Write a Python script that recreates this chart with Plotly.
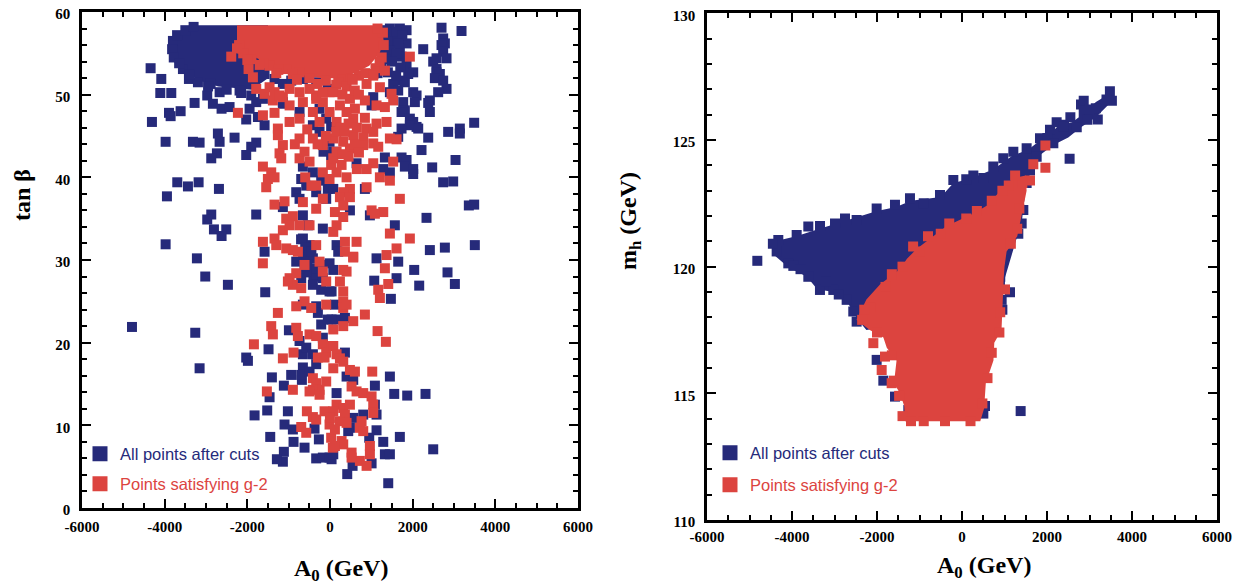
import plotly.graph_objects as go

# ---------------- colours ----------------
BLUE = "#262a7a"
RED = "#dc443f"

# ---------------- tick labels ----------------
A0_TICKS = [-6000, -4000, -2000, 0, 2000, 4000, 6000]
A0_TICKTEXT = ["-6000", "-4000", "-2000", "0", "2000", "4000", "6000"]
TANB_TICKS = [0, 10, 20, 30, 40, 50, 60]
TANB_TICKTEXT = ["0", "10", "20", "30", "40", "50", "60"]
MH_TICKS = [110, 115, 120, 125, 130]
MH_TICKTEXT = ["110", "115", "120", "125", "130"]

LEGEND_ALL = "All points after cuts"
LEGEND_G2 = "Points satisfying g-2"

# ============ LEFT PANEL: A0 vs tan beta ============
# dense cores (outline of the saturated cloud of points)
left_blue_core = [(-3300, 58.4), (-1500, 58.4), (-1500, 52.0), (-1900, 50.6), (-2300, 50.8),
                  (-2700, 51.0), (-3100, 51.6), (-3500, 52.6), (-3750, 53.8), (-3850, 55.0),
                  (-3800, 56.8), (-3600, 57.6)]
left_red_core = [(-2250, 58.4), (1250, 58.4), (1300, 56.5), (1200, 55.0), (950, 53.5), (600, 52.6),
                 (200, 52.0), (-200, 52.0), (-600, 52.3), (-1000, 52.8), (-1400, 53.5),
                 (-1800, 54.5), (-2250, 55.0)]

left_blue_pts = [
    (-4340, 53.2), (-4082, 51.9), (-4106, 50.2), (-3840, 50.2), (-3276, 49.0), (-3614, 48.0),
    (-3896, 47.8), (-3856, 47.4), (-4308, 46.7), (-3977, 44.3), (-3316, 44.3), (-3155, 44.2),
    (-2712, 45.3), (-2671, 44.3), (-2309, 44.8), (-2736, 42.9), (-2873, 42.3), (-1785, 44.2),
    (-1906, 43.7), (-2027, 42.7), (-3695, 39.4), (-3437, 38.9), (-3179, 39.4), (-2687, 38.6),
    (-3945, 37.7), (-1785, 35.5), (-2873, 35.5), (-2970, 34.9), (-2808, 33.7), (-2510, 33.7),
    (-2623, 32.9), (-3977, 31.9), (-3220, 30.2),
    (-3558, 53.1), (-3413, 51.9), (-3195, 51.5), (-2889, 51.3), (-2671, 50.3), (-2970, 49.9),
    (-2833, 48.9), (-2623, 48.3), (-2430, 48.5), (-2188, 50.5), (-1906, 49.9), (-1946, 48.3),
    (-2027, 47.0), (-1744, 47.3), (-1583, 46.3), (-1785, 49.1), (-1140, 48.9), (-1623, 49.5),
    (-3800, 56.5), (-3820, 55.5), (-3780, 54.5), (-3700, 57.2), (-3500, 57.8), (-3300, 58.2),
    (-3650, 53.8), (-3400, 52.4), (-2950, 51.0), (-2500, 50.6), (-2150, 50.2),
    (-656, 41.3), (-414, 40.6), (-696, 39.8), (-817, 38.2), (-575, 39.0), (-334, 38.2),
    (-52, 38.6), (-213, 39.6), (-737, 37.4), (-92, 37.4), (-656, 35.4), (-535, 34.2),
    (-656, 32.6), (-495, 31.8), (-575, 31.0), (-414, 30.2), (-173, 33.8), (-1583, 31.0),
    (-1140, 36.4), (-253, 45.5), (-11, 44.3), (-157, 43.1), (28, 42.7),
    (-700, 32.5), (-600, 31.5), (-500, 30.5), (-650, 30.0), (-450, 31.0), (-550, 29.5),
    (-400, 28.0), (-600, 28.5),
    (-1583, 52.5), (-1342, 51.9), (-1140, 51.3), (-938, 51.7), (-656, 51.9), (-334, 51.5),
    (-52, 50.7), (-1140, 49.1), (-253, 48.3), (-92, 47.1), (-414, 46.3), (28, 46.1), (-737, 47.9),
    (1449, 58.0), (1690, 58.0), (1852, 57.8), (2698, 58.1), (3182, 57.7), (2255, 55.5),
    (2738, 56.8), (2779, 56.2), (2698, 56.0), (2738, 55.2), (2819, 54.4), (2577, 54.4),
    (2497, 54.0), (2577, 53.1), (2577, 52.7), (2658, 52.5), (2537, 52.0), (2738, 51.7),
    (2819, 50.7), (2617, 50.3), (2416, 49.3), (2376, 49.0), (2416, 47.9), (1529, 56.2),
    (1610, 56.8), (1852, 56.2), (1690, 55.6), (1569, 54.8), (1731, 54.6), (1852, 53.5),
    (2013, 52.7), (1892, 52.5), (1731, 51.7), (1811, 51.5), (1529, 51.3), (1449, 50.3),
    (1650, 50.5), (2013, 50.3), (2094, 49.9), (2053, 49.1), (1771, 49.1), (1811, 48.1),
    (1731, 47.9), (1932, 47.1), (2013, 46.7), (2094, 46.1), (1932, 46.3), (2134, 45.9),
    (1731, 45.9), (1046, 49.7), (1006, 48.7), (2859, 45.5), (3141, 45.9), (3141, 45.3),
    (3488, 46.6), (2376, 44.8), (2214, 43.3), (1650, 44.9), (1328, 42.4), (1731, 42.4),
    (1852, 42.1), (1811, 41.3), (2013, 41.0), (2013, 40.4), (1288, 41.0), (1449, 40.6),
    (2472, 41.2), (3037, 42.1), (2738, 39.4), (2980, 39.5), (3359, 36.6), (3488, 36.7),
    (2335, 35.1), (1569, 34.2), (643, 41.7), (844, 38.6), (79, 43.1), (79, 38.6), (482, 36.0),
    (2416, 31.2), (2779, 31.5), (3504, 31.8), (1126, 30.2), (1650, 29.8), (965, 35.4),
    (159, 31.8), (199, 31.0),
    (1350, 57.8), (1400, 57.2), (1500, 57.5), (1600, 57.6), (1750, 57.2), (1400, 56.4),
    (1650, 56.2), (1300, 55.5), (1450, 55.3), (1600, 55.0), (1350, 54.3), (1500, 54.0),
    (1250, 53.5), (1700, 53.3), (1400, 52.7), (1600, 52.3), (1150, 52.6),
    (-3018, 28.0), (-2470, 27.0), (-1567, 26.1), (-4791, 21.9), (-3260, 21.2), (-3155, 16.9),
    (-2027, 18.2), (-1986, 17.8), (-1487, 19.2), (-1406, 15.8), (-1116, 14.8), (-939, 16.1),
    (-680, 15.5), (-1462, 13.4), (-1825, 11.2), (-1519, 11.8), (-1019, 11.7), (-1100, 10.1),
    (-898, 9.5), (-882, 8.0), (-1446, 8.6), (-616, 7.3), (-269, 8.3), (-374, 9.6),
    (-1116, 6.8), (-1140, 5.6), (-1285, 5.9), (-334, 6.0), (-173, 6.1), (-11, 6.1),
    (-994, 21.5), (-656, 18.6), (-656, 17.0), (-696, 16.1), (-495, 16.5), (-334, 17.4),
    (-696, 27.8), (-495, 28.6), (-334, 28.2), (-173, 27.8), (-414, 27.0), (-213, 26.4),
    (-11, 26.2), (-334, 29.0), (-656, 24.6), (-334, 24.4), (-293, 23.6), (-52, 22.8),
    (-213, 22.2), (-737, 20.2), (-575, 19.4), (-414, 18.6), (-173, 20.6), (-817, 29.8),
    (-616, 29.2), (-213, 29.4), (-11, 29.6),
    (2037, 28.8), (2843, 28.5), (3021, 27.1), (1070, 27.5), (1610, 27.8), (2158, 26.9),
    (1473, 25.3), (79, 28.8), (38, 26.2), (119, 24.6), (159, 22.8), (361, 23.0), (38, 22.8),
    (361, 18.8), (401, 15.9), (562, 15.5), (1449, 15.9), (1086, 14.8), (1554, 13.8),
    (1868, 13.6), (2311, 13.8), (159, 13.9), (1086, 12.5), (1126, 11.3), (804, 11.3),
    (562, 10.9), (482, 9.7), (1126, 9.4), (949, 8.5), (1288, 8.0), (1690, 8.6), (1328, 6.5),
    (1449, 6.5), (2497, 7.1), (38, 5.9), (79, 6.5), (546, 5.1), (417, 4.1), (1006, 5.4),
    (1409, 3.0), (441, 9.3),
]

left_red_pts = [
    (-2389, 54.6), (-2228, 47.8), (-1970, 53.1), (-1865, 52.1), (-1785, 50.7), (-1583, 50.1),
    (-1623, 47.5), (-1342, 47.8), (-1382, 49.3), (-1140, 49.7), (-1261, 45.9), (-1261, 45.1),
    (-1140, 43.9), (-1221, 42.9), (-1180, 42.3), (-1623, 41.3), (-1422, 40.6), (-1503, 39.8),
    (-1342, 40.0), (-1543, 38.8), (-1342, 36.7), (-1100, 37.1), (-1059, 35.0), (-898, 35.3),
    (-1623, 32.2), (-1342, 32.6), (-1301, 31.8), (-1059, 31.4), (-898, 31.2), (-737, 34.2),
    (-495, 34.2), (-334, 36.2), (-173, 37.4), (-656, 37.0), (-737, 42.3), (-495, 41.9),
    (-616, 43.1), (-414, 44.7), (-737, 44.7), (-173, 43.9), (28, 41.5), (-978, 46.7),
    (-737, 47.1), (-414, 47.9), (-253, 46.7), (-173, 49.1), (-11, 47.9), (-978, 48.7),
    (-656, 49.1), (-334, 49.9), (-11, 50.3), (-173, 40.6), (-11, 39.8), (-334, 39.0),
    (-777, 31.0), (-334, 31.8), (-1140, 33.6), (-978, 34.2),
    (-1462, 50.9), (-1342, 50.3), (-1221, 49.9), (-978, 50.7), (-737, 50.3), (-495, 50.7),
    (-334, 49.5), (-173, 50.3), (-1462, 53.5), (-1059, 53.1), (-737, 52.7),
    (-2200, 56.0), (-2100, 55.0), (-1900, 54.3), (-1600, 53.8), (-1250, 53.0), (-900, 52.5),
    (-500, 52.0), (-100, 51.7), (300, 51.8), (700, 52.3), (1100, 53.2), (1250, 54.5),
    (1300, 56.0), (1280, 57.5), (1150, 58.0),
    (-1700, 53.6), (-1300, 52.6), (-800, 51.8), (-300, 51.3), (150, 51.2), (500, 51.9),
    (850, 52.6), (1050, 52.5), (1200, 54.0), (-2000, 54.2), (-2250, 55.6),
    (1932, 54.6), (1328, 52.9), (1046, 52.3), (885, 51.3), (1207, 50.9), (1489, 50.1),
    (1529, 49.3), (844, 49.3), (1126, 48.7), (1328, 48.5), (844, 47.2), (603, 48.3),
    (562, 47.1), (1368, 46.7), (1126, 46.5), (885, 45.9), (1046, 45.5), (804, 44.8),
    (1449, 44.7), (1610, 44.6), (1046, 44.1), (1167, 43.7), (804, 43.9), (1529, 41.9),
    (1046, 41.7), (885, 41.0), (1449, 39.6), (1207, 40.0), (885, 38.8), (482, 38.6),
    (320, 38.2), (240, 37.6), (482, 37.6), (1690, 37.4), (1006, 36.0), (1288, 35.8),
    (1086, 35.6), (320, 36.6), (119, 35.8), (320, 35.2), (1449, 33.2), (1932, 32.6),
    (1610, 31.4), (1368, 30.6), (361, 32.2), (643, 32.2), (361, 31.0), (562, 30.4),
    (79, 33.4), (159, 34.2), (159, 40.6), (280, 41.5), (401, 40.0), (79, 42.3), (159, 43.1),
    (482, 43.5), (320, 44.3), (562, 45.1), (79, 44.7), (159, 46.7), (401, 47.9), (240, 48.7),
    (482, 49.5), (79, 50.3),
    (200, 51.5), (400, 51.0), (600, 50.5), (300, 50.0), (550, 51.8), (700, 50.0), (250, 46.0),
    (450, 46.5), (650, 46.0), (150, 45.5), (350, 45.5), (600, 44.0), (700, 43.0), (450, 42.5),
    (300, 42.8), (650, 41.0), (-100, 45.0), (-300, 44.0), (-550, 45.8), (-850, 44.0),
    (-600, 40.0), (-450, 39.0),
    (-1624, 29.6), (-978, 27.8), (-898, 27.0), (-696, 26.6), (-1019, 27.4), (-616, 29.4),
    (-817, 28.4), (-253, 29.8), (-92, 27.4), (-173, 28.6), (-616, 25.0), (-817, 24.4),
    (-455, 24.2), (-92, 24.6), (-1261, 23.6), (-1422, 22.0), (-1382, 21.0), (-817, 21.8),
    (-777, 20.8), (-495, 21.0), (-334, 20.8), (-173, 19.8), (-92, 18.8), (28, 19.6),
    (-293, 18.2), (-132, 18.2), (-1841, 19.8), (-1140, 18.1), (-882, 18.8), (-414, 15.7),
    (-334, 15.1), (-253, 14.3), (-92, 15.3), (-414, 14.3), (-495, 14.1), (-253, 13.7),
    (-1527, 14.1), (-898, 14.3), (-559, 11.7), (-414, 11.0), (-334, 10.7), (-132, 11.7),
    (-696, 9.8), (-575, 9.1), (-11, 10.1), (28, 8.5), (69, 7.3),
    (562, 30.3), (1328, 29.0), (1409, 27.1), (1167, 26.4), (1207, 25.4), (320, 28.8),
    (401, 28.6), (240, 27.4), (320, 26.2), (320, 25.0), (320, 24.2), (401, 24.6), (844, 23.4),
    (562, 22.6), (320, 22.0), (79, 21.6), (1151, 21.4), (1352, 20.1), (79, 19.6), (159, 18.6),
    (240, 18.1), (320, 17.7), (79, 16.9), (482, 16.7), (603, 16.5), (1022, 16.5), (522, 14.7),
    (643, 14.1), (804, 13.9), (1006, 13.5), (1046, 12.5), (1046, 11.5), (159, 12.5),
    (320, 12.1), (482, 12.5), (79, 11.7), (361, 11.3), (-2, 10.9), (240, 10.5), (401, 10.3),
    (764, 10.5), (723, 9.7), (804, 9.3), (119, 9.5), (280, 8.1), (320, 7.7), (119, 7.5),
    (522, 6.7), (965, 7.5), (965, 6.5), (723, 5.7), (885, 5.1), (522, 6.1),
]

# ============ RIGHT PANEL: A0 vs m_h ============
right_blue_core = [(-4400, 121.0), (-3900, 121.2), (-3350, 121.5), (-2750, 121.8), (-2000, 122.2),
                   (-1550, 122.35), (-1200, 122.6), (-500, 122.75), (-200, 123.3), (250, 123.5),
                   (750, 123.85), (1200, 124.4), (1550, 124.6), (1850, 125.0), (2100, 125.3),
                   (2300, 125.6), (2600, 125.7), (2900, 126.1), (3150, 126.5), (3450, 126.8),
                   (3450, 126.4), (3150, 125.9), (2800, 125.5), (2500, 125.1), (2150, 124.8),
                   (1750, 124.3), (1520, 123.3), (1440, 122.3), (1400, 121.6), (1300, 121.2),
                   (1000, 119.5), (900, 118.3), (-2250, 117.5), (-2450, 117.9), (-2700, 118.6),
                   (-3000, 119.0), (-3400, 119.1), (-3650, 119.6), (-4100, 120.0), (-4450, 120.5)]
right_red_core = [(1500, 123.6), (1520, 123.0), (1450, 122.4), (1380, 121.8), (1300, 121.2),
                  (1050, 120.6), (1000, 120.0), (980, 119.5), (950, 118.3), (930, 117.5),
                  (760, 117.0), (740, 116.3), (640, 115.8), (560, 115.4), (520, 114.4),
                  (430, 113.9), (-1340, 113.9), (-1360, 114.5), (-1460, 115.0), (-1600, 115.4),
                  (-1580, 115.7), (-1540, 116.3), (-1770, 116.8), (-1850, 117.2), (-2170, 117.5),
                  (-2480, 117.9), (-2250, 118.7), (-1930, 119.3), (-1460, 119.9), (-1300, 120.3),
                  (-1070, 120.7), (-680, 121.2), (-360, 121.6), (270, 122.1), (580, 122.4),
                  (850, 122.9), (1200, 123.5)]

right_blue_pts = [
    (-4322, 121.05), (-3890, 121.25), (-3616, 121.58), (-3341, 121.6), (-2988, 121.7),
    (-2753, 121.9), (-2479, 121.84), (-2008, 122.3), (-1577, 122.44), (-1224, 122.7),
    (-900, 122.5), (-518, 122.83), (-204, 123.42), (100, 123.45), (267, 123.6), (500, 123.5),
    (737, 123.95), (972, 124.28), (1208, 124.54), (1521, 124.67), (1835, 125.07),
    (2070, 125.4), (2227, 125.7), (2400, 125.6), (2550, 125.9), (2800, 126.4), (2864, 126.55),
    (3148, 126.25), (3195, 125.81), (3480, 126.92), (3527, 126.55), (3400, 126.6),
    (2864, 126.1), (2388, 125.52), (2532, 124.26), (2009, 125.08), (2700, 125.5),
    (2950, 125.8), (3000, 126.2),
    (-4816, 120.23), (-4361, 120.6), (-4087, 120.13), (-3969, 120.03), (-3342, 119.08),
    (-3028, 119.08), (-3616, 119.6), (-2714, 118.69), (-2558, 118.23), (-2479, 117.83),
    (-4450, 120.9), (-3800, 119.9), (-3200, 119.4), (-2900, 118.9),
    (1325, 121.3), (1404, 121.7), (1443, 122.24), (1521, 123.3), (1757, 124.34),
    (2149, 124.87), (1600, 123.8), (1300, 123.0),
    (-2008, 116.32), (-1851, 115.5), (-1577, 114.87), (-1263, 114.34), (541, 114.5),
    (502, 114.2), (1380, 114.3), (893, 119.34), (737, 118.95), (933, 118.69), (1129, 118.99),
    (900, 119.6), (950, 118.3),
]
right_red_pts = [
    (1962, 124.78), (1678, 124.04), (1962, 123.9), (1600, 123.4), (-2086, 116.98),
    (-1812, 116.45), (-1890, 115.92), (-1655, 115.4), (1012, 119.1),
    (1420, 123.3), (1350, 122.3), (1300, 121.5), (1150, 120.9), (-1400, 114.1),
    (-1480, 114.9), (-1600, 115.5), (-1650, 116.5), (-2000, 117.4), (-2350, 117.9),
    (-2150, 118.4), (-1800, 119.2), (-1400, 120.0), (-1000, 120.6), (-500, 121.3),
    (100, 121.9), (700, 122.6), (1100, 123.2), (880, 117.4), (700, 116.6), (600, 115.6),
    (480, 114.6), (900, 118.2),
    (-1150, 120.8), (-800, 121.2), (-300, 121.7), (350, 122.2), (950, 123.0), (1250, 123.6),
    (-2300, 118.3), (-1650, 119.7), (-1200, 113.9), (-900, 113.9), (-400, 113.9), (200, 113.9),
]


def xs(pairs):
    return [p[0] for p in pairs]


def ys(pairs):
    return [p[1] for p in pairs]


fig = go.Figure()


def add_core(pairs, color, xa, ya):
    fig.add_trace(go.Scatter(x=xs(pairs), y=ys(pairs), mode="lines", fill="toself",
                             fillcolor=color, line=dict(width=0, color=color),
                             hoverinfo="skip", showlegend=False, xaxis=xa, yaxis=ya))


def add_pts(pairs, color, xa, ya):
    fig.add_trace(go.Scatter(x=xs(pairs), y=ys(pairs), mode="markers",
                             marker=dict(symbol="square", size=10, color=color, line=dict(width=0)),
                             showlegend=False, xaxis=xa, yaxis=ya))


# left panel: all points first, g-2 points on top
add_core(left_blue_core, BLUE, "x", "y")
add_pts(left_blue_pts, BLUE, "x", "y")
add_core(left_red_core, RED, "x", "y")
add_pts(left_red_pts, RED, "x", "y")
# right panel
add_core(right_blue_core, BLUE, "x2", "y2")
add_pts(right_blue_pts, BLUE, "x2", "y2")
add_core(right_red_core, RED, "x2", "y2")
add_pts(right_red_pts, RED, "x2", "y2")

# legend entries (one legend per entry so each gets its own text colour)
for name, color, leg, xa, ya in [(LEGEND_ALL, BLUE, "legend", "x", "y"),
                                 (LEGEND_G2, RED, "legend2", "x", "y"),
                                 (LEGEND_ALL, BLUE, "legend3", "x2", "y2"),
                                 (LEGEND_G2, RED, "legend4", "x2", "y2")]:
    fig.add_trace(go.Scatter(x=[None], y=[None], mode="markers", name=name,
                             marker=dict(symbol="square", size=15, color=color),
                             legend=leg, xaxis=xa, yaxis=ya, showlegend=True))

# the page places the figure 8 px in from the top-left corner of the window
OFF = 8
W, H = 1248 - OFF, 584 - OFF


def px(x):
    return (x - OFF) / W


def py(y):
    return 1 - (y - OFF) / H


tickfont = dict(family="Liberation Serif", size=15, color="black", weight="bold")
axis_common = dict(showline=True, linecolor="black", linewidth=2.5, mirror="allticks",
                   ticks="inside", ticklen=9, tickwidth=2, tickcolor="black",
                   showgrid=False, zeroline=False, tickfont=tickfont, tickmode="array",
                   automargin=False, ticklabeloverflow="allow")

fig.update_layout(
    template="none",
    width=W, height=H, margin=dict(l=0, r=0, t=0, b=0, pad=0, autoexpand=False),
    paper_bgcolor="white", plot_bgcolor="white",
    xaxis=dict(domain=[px(82), px(578)], range=[-6000, 6000], anchor="y",
               tickvals=A0_TICKS, ticktext=A0_TICKTEXT, ticklabelstandoff=3,
               minor=dict(tickmode="linear", tick0=-6000, dtick=500, ticks="inside",
                          ticklen=5, tickwidth=2, tickcolor="black"),
               **axis_common),
    yaxis=dict(domain=[py(508), py(12)], range=[0, 60], anchor="x",
               tickvals=TANB_TICKS, ticktext=TANB_TICKTEXT, ticklabelstandoff=6,
               ticklabelshift=2,
               minor=dict(tickmode="linear", tick0=0, dtick=2, ticks="inside",
                          ticklen=5, tickwidth=2, tickcolor="black"),
               **axis_common),
    xaxis2=dict(domain=[px(707), px(1217)], range=[-6000, 6000], anchor="y2",
                tickvals=A0_TICKS, ticktext=A0_TICKTEXT, ticklabelstandoff=1,
                minor=dict(tickmode="linear", tick0=-6000, dtick=500, ticks="inside",
                           ticklen=5, tickwidth=2, tickcolor="black"),
                **axis_common),
    yaxis2=dict(domain=[py(520), py(13.3)], range=[110, 130], anchor="x2",
                tickvals=MH_TICKS, ticktext=MH_TICKTEXT, ticklabelstandoff=6,
                ticklabelshift=2,
                minor=dict(tickmode="linear", tick0=110, dtick=1, ticks="inside",
                           ticklen=5, tickwidth=2, tickcolor="black"),
                **axis_common),
)

legfont = dict(family="Liberation Sans", size=16.5)
for key, xpix, ypix, color in [("legend", 80, 454, BLUE), ("legend2", 80, 484, RED),
                               ("legend3", 710, 453, BLUE), ("legend4", 710, 485, RED)]:
    fig.update_layout({key: dict(x=px(xpix), y=py(ypix), xanchor="left", yanchor="middle",
                                 bgcolor="rgba(0,0,0,0)", borderwidth=0,
                                 font=dict(color=color, **legfont))})

titlefont = dict(family="Liberation Serif", size=24, color="black", weight="bold")
annos = [
    dict(text="A<sub>0</sub> (GeV)", x=px(341), y=py(570), textangle=0),
    dict(text="A<sub>0</sub> (GeV)", x=px(984), y=py(567), textangle=0),
    dict(text="tan \u03b2", x=px(22), y=py(195), textangle=-90),
    dict(text="m<sub>h</sub> (GeV)", x=px(630), y=py(221), textangle=-90),
]
for a in annos:
    fig.add_annotation(xref="paper", yref="paper", showarrow=False, xanchor="center",
                       yanchor="middle", font=titlefont, **a)

fig.write_html("out.html")
